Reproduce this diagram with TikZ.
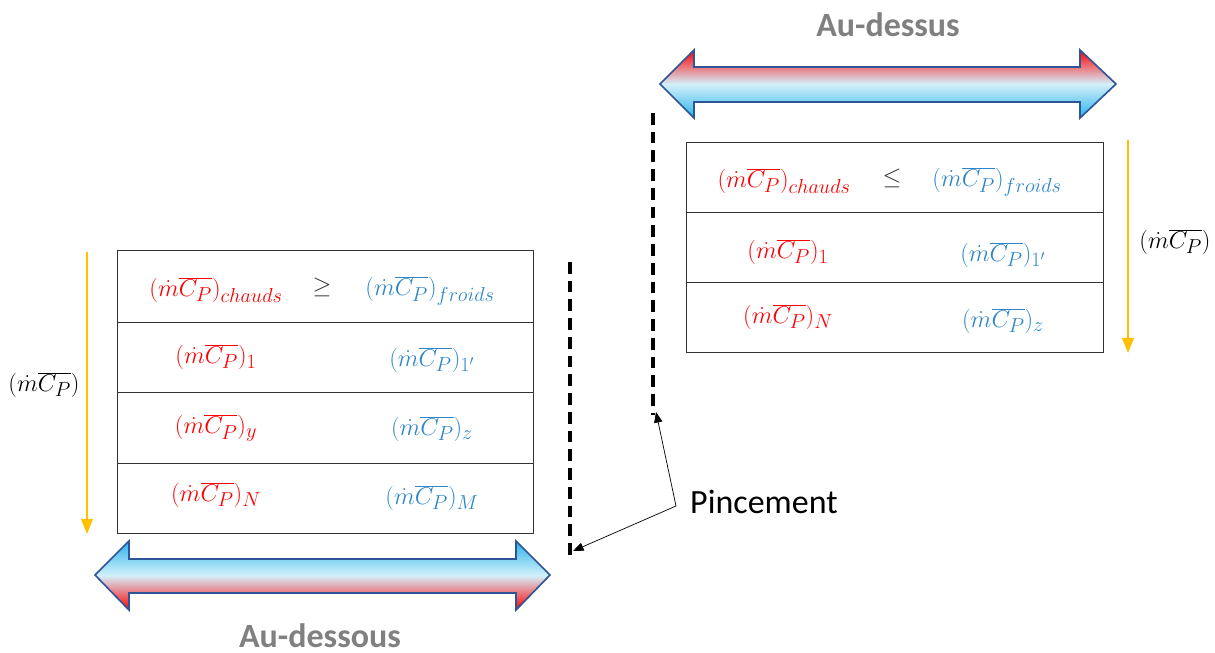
\documentclass[tikz,border=0pt]{standalone}
\usepackage{fontspec}
\setmainfont{Carlito}
\usetikzlibrary{positioning,arrows.meta}

\definecolor{chaud}{RGB}{255,0,0}
\definecolor{froid}{RGB}{46,134,200}
\definecolor{jaune}{RGB}{255,192,0}
\definecolor{contour}{RGB}{47,85,151}
\definecolor{ciel}{RGB}{40,180,235}
\definecolor{gris}{RGB}{128,128,128}

\DeclareMathSizes{21}{21}{17}{13}
\newcommand{\mcp}{(\dot{m}\overline{C_P})}
\newcommand{\mcpfont}{\fontsize{21}{25}\selectfont}

\tikzset{
  chaudtxt/.style={text=chaud, font=\mcpfont, inner sep=0pt},
  froidtxt/.style={text=froid, font=\mcpfont, inner sep=0pt},
  debit/.style={jaune, line width=1.7pt, -{Triangle[length=13pt, width=10pt]}},
  pincline/.style={black, line width=2.6pt, dash pattern=on 10pt off 6pt},
  fleche/.style={black, line width=0.6pt, -{Triangle[length=9pt, width=7pt]}},
  titre/.style={text=gris, font=\fontsize{29}{34}\selectfont\bfseries, anchor=base, inner sep=0pt},
  bande/.style={draw=contour, line width=1.4pt}
}

\begin{document}
\begin{tikzpicture}[x=0.03cm, y=-0.03cm]
    \useasboundingbox (0,0) rectangle (1215,653);

    % Fleches doubles
    \path[bande, top color=ciel, bottom color=chaud, middle color=white!80!ciel]
      (95,575) -- (129,541) -- (129,559) -- (516,559) -- (516,541) -- (550,575)
      -- (516,610) -- (516,593) -- (129,593) -- (129,610) -- cycle;
    \path[bande, top color=chaud, bottom color=ciel, middle color=white!80!ciel]
      (660,84) -- (694,50) -- (694,67) -- (1080,67) -- (1080,50) -- (1116,84)
      -- (1080,118) -- (1080,102) -- (694,102) -- (694,118) -- cycle;
    \node[titre] (dessus) at (888,37) {Au-dessus};
    \node[titre] (dessous) at (320,647) {Au-dessous};

    % Tableau de gauche
    \draw[line width=0.8pt, black!80] (117,250) rectangle (533,533);
    \foreach \y in {322,392,463}
        \draw[line width=0.8pt, black!80] (117,\y) -- (533,\y);
    \node[chaudtxt] (gch) at (216,290) {$\mcp_{chauds}$};
    \node[font=\mcpfont, text=black!80] (gsup) at (322,287) {$\geq$};
    \node[froidtxt] (gfr) at (430,291) {$\mcp_{froids}$};
    \node[chaudtxt] (g1) at (216,357) {$\mcp_{1}$};
    \node[froidtxt] (g1p) at (432,360) {$\mcp_{1'}$};
    \node[chaudtxt] (gy) at (216,428) {$\mcp_{y}$};
    \node[froidtxt] (gz) at (432,429) {$\mcp_{z}$};
    \node[chaudtxt] (gN) at (216,495) {$\mcp_{N}$};
    \node[froidtxt] (gM) at (432,498) {$\mcp_{M}$};

    % Tableau de droite
    \draw[line width=0.8pt, black!80] (686,142) rectangle (1103,352);
    \foreach \y in {212,282}
        \draw[line width=0.8pt, black!80] (686,\y) -- (1103,\y);
    \node[chaudtxt] (dch) at (784,181) {$\mcp_{chauds}$};
    \node[font=\mcpfont, text=black!80] (dinf) at (892,178) {$\leq$};
    \node[froidtxt] (dfr) at (997,182) {$\mcp_{froids}$};
    \node[chaudtxt] (d1) at (788,252) {$\mcp_{1}$};
    \node[froidtxt] (d1p) at (1003,255) {$\mcp_{1'}$};
    \node[chaudtxt] (dN) at (788,317) {$\mcp_{N}$};
    \node[froidtxt] (dz) at (1003,321) {$\mcp_{z}$};

    % Debits
    \coordinate (gh) at (87,252);
    \coordinate (gb) at (87,534);
    \draw[debit] (gh) -- (gb);
    \node[font=\mcpfont, inner sep=0pt] (gmcp) at (44,385) {$\mcp$};
    \coordinate (dh) at (1128,140);
    \coordinate (db) at (1128,353);
    \draw[debit] (dh) -- (db);
    \node[font=\mcpfont, inner sep=0pt] (dmcp) at (1175,242) {$\mcp$};

    % Pincement
    \coordinate (p1h) at (570,262);
    \coordinate (p1b) at (570,556);
    \draw[pincline] (p1h) -- (p1b);
    \coordinate (p2h) at (653,113);
    \coordinate (p2b) at (653,415);
    \draw[pincline] (p2h) -- (p2b);
    \coordinate (sommet) at (676,506);
    \node[anchor=west, font=\fontsize{29}{34}\selectfont, inner sep=0pt] (pinc) at (690,502) {Pincement};
    \draw[fleche] (sommet) -- (573,551);
    \draw[fleche] (sommet) -- (656,412);
\end{tikzpicture}
\end{document}
